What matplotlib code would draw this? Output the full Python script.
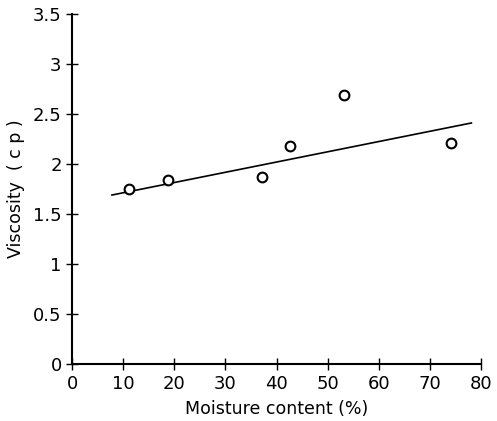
import numpy as np
import matplotlib.pyplot as plt

# Measured points
moisture = [11.2, 18.8, 37.2, 42.7, 53.2, 74.2]
viscosity = [1.75, 1.84, 1.87, 2.18, 2.69, 2.21]

# Fitted line end points
line_x = [7.8, 78.1]
line_y = [1.69, 2.41]

xticks = [0, 10, 20, 30, 40, 50, 60, 70, 80]
yticks = [0, 0.5, 1, 1.5, 2, 2.5, 3, 3.5]
ytick_labels = ['0', '0.5', '1', '1.5', '2', '2.5', '3', '3.5']

fig = plt.figure(figsize=(4.97, 4.21), dpi=100)
ax = fig.add_axes([0.145, 0.135, 0.823, 0.832])

ax.plot(line_x, line_y, color='black', lw=1.2)
ax.plot(moisture, viscosity, 'o', mfc='white', mec='black', ms=7, mew=1.5)

ax.set_xlim(0, 80)
ax.set_ylim(0, 3.5)
ax.set_xticks(xticks)
ax.set_yticks(yticks)
ax.set_yticklabels(ytick_labels)
ax.spines['top'].set_visible(False)
ax.spines['right'].set_visible(False)
for s in ['left', 'bottom']:
    ax.spines[s].set_linewidth(1.5)
ax.tick_params(direction='inout', length=9, width=1.0, labelsize=13, pad=3)

ax.set_xlabel('Moisture content (%)', fontsize=12.5, labelpad=5)
ax.set_ylabel('Viscosity  ( c p )', fontsize=12.5, labelpad=6)

fig.savefig('out.png', dpi=100)
